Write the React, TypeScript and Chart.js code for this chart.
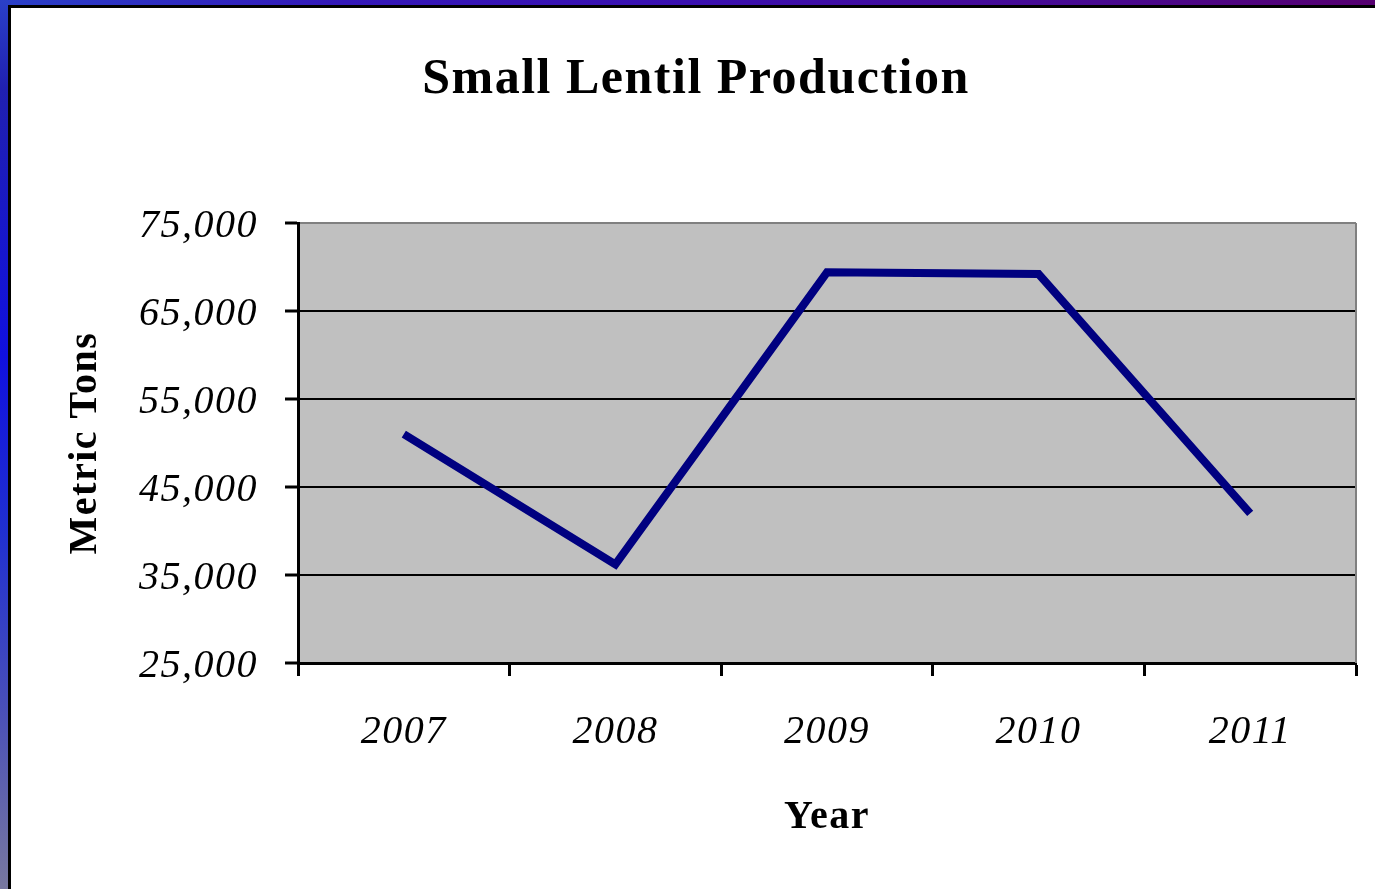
import React, { useEffect, useRef } from "react";
import { Chart, registerables } from "chart.js";

Chart.register(...registerables);

const years = ["2007", "2008", "2009", "2010", "2011"];
const production = [51000, 36200, 69400, 69200, 42000];
const yMin = 25000;
const yMax = 75000;
const yStep = 10000;
const titleText = "Small Lentil Production";
const yTitle = "Metric Tons";
const xTitle = "Year";

const SERIF = "'Liberation Serif', 'Times New Roman', serif";

const plotDeco = {
  id: "plotDeco",
  beforeDraw(chart: any) {
    const { ctx, chartArea } = chart;
    ctx.save();
    ctx.fillStyle = "#c0c0c0";
    ctx.fillRect(chartArea.left, chartArea.top, chartArea.right - chartArea.left, chartArea.bottom - chartArea.top);
    ctx.restore();
    try {
      (ctx as any).letterSpacing = "1.5px";
    } catch (e) {}
  },
  afterDraw(chart: any) {
    const { ctx, chartArea } = chart;
    ctx.save();
    ctx.strokeStyle = "#808080";
    ctx.lineWidth = 2;
    ctx.beginPath();
    ctx.moveTo(chartArea.right, chartArea.top);
    ctx.lineTo(chartArea.right, chartArea.bottom);
    ctx.stroke();
    ctx.restore();
  },
};

function LentilChart() {
  const ref = useRef<HTMLCanvasElement | null>(null);
  useEffect(() => {
    if (!ref.current) return;
    const chart = new Chart(ref.current, {
      type: "line",
      data: {
        labels: years,
        datasets: [
          {
            label: "Production",
            data: production,
            borderColor: "#000080",
            borderWidth: 8,
            pointRadius: 0,
            tension: 0,
            borderJoinStyle: "miter",
            borderCapStyle: "butt",
            fill: false,
          },
        ],
      },
      options: {
        animation: false,
        responsive: false,
        layout: { padding: { left: 36, right: 19, top: 0, bottom: 0 } },
        plugins: {
          legend: { display: false },
          tooltip: { enabled: false },
          title: {
            display: true,
            text: titleText,
            color: "#000",
            font: { family: SERIF, size: 50, weight: "bold", lineHeight: 1.2 },
            padding: { top: 50, bottom: 113 },
          },
        },
        scales: {
          x: {
            type: "category",
            offset: true,
            afterFit: (s: any) => {
              s.height = 226;
            },
            grid: {
              offset: true,
              drawOnChartArea: false,
              drawTicks: true,
              tickLength: 13,
              tickColor: "#000",
              tickWidth: 3,
            },
            border: { display: true, color: "#000", width: 3 },
            ticks: {
              color: "#000",
              padding: 32,
              font: { family: SERIF, size: 40, style: "italic", lineHeight: 1.2 },
              maxRotation: 0,
            },
            title: {
              display: true,
              text: xTitle,
              color: "#000",
              font: { family: SERIF, size: 40, weight: "bold", lineHeight: 1.2 },
              padding: { top: 0, bottom: 47 },
            },
          },
          y: {
            min: yMin,
            max: yMax,
            afterFit: (s: any) => {
              s.width = 262;
            },
            grid: {
              drawTicks: true,
              tickLength: 13,
              tickColor: "#000",
              tickWidth: 3,
              lineWidth: 2,
              color: (c: any) => (c.tick && c.tick.value === yMax ? "#808080" : "#000"),
            },
            border: { display: true, color: "#000", width: 3 },
            ticks: {
              stepSize: yStep,
              color: "#000",
              padding: 27,
              labelOffset: 3,
              font: { family: SERIF, size: 40, style: "italic", lineHeight: 1.2 },
              callback: (v: any) => Number(v).toLocaleString("en-US"),
            },
            title: {
              display: true,
              text: yTitle,
              color: "#000",
              font: { family: SERIF, size: 40, weight: "bold", lineHeight: 1.2 },
              padding: { top: 26, bottom: 0 },
            },
          },
        },
      },
      plugins: [plotDeco],
    } as any);
    return () => chart.destroy();
  }, []);
  return (
    <canvas
      ref={ref}
      width={1375}
      height={889}
      style={{ position: "absolute", left: 0, top: 0, width: 1375, height: 889 }}
    />
  );
}

export default function App() {
  return (
    <div style={{ position: "fixed", left: 0, top: 0, width: 1375, height: 889, overflow: "hidden", background: "#fff" }}>
      <div
        style={{
          position: "absolute",
          left: 0,
          top: 0,
          width: 1375,
          height: 6,
          background: "linear-gradient(90deg, #2a40c8 0%, #3418b8 25%, #3a10b0 50%, #480a90 80%, #560070 100%)",
        }}
      />
      <div
        style={{
          position: "absolute",
          left: 0,
          top: 0,
          width: 8,
          height: 889,
          background: "linear-gradient(180deg, #2a40c8 0%, #2020b0 10%, #1010e0 40%, #2030d0 60%, #4a50b8 80%, #7878a0 100%)",
        }}
      />
      <div
        style={{
          position: "absolute",
          left: 8,
          top: 5,
          right: 0,
          bottom: 0,
          borderLeft: "3px solid #000",
          borderTop: "3px solid #000",
          background: "#fff",
        }}
      />
      <LentilChart />
    </div>
  );
}
